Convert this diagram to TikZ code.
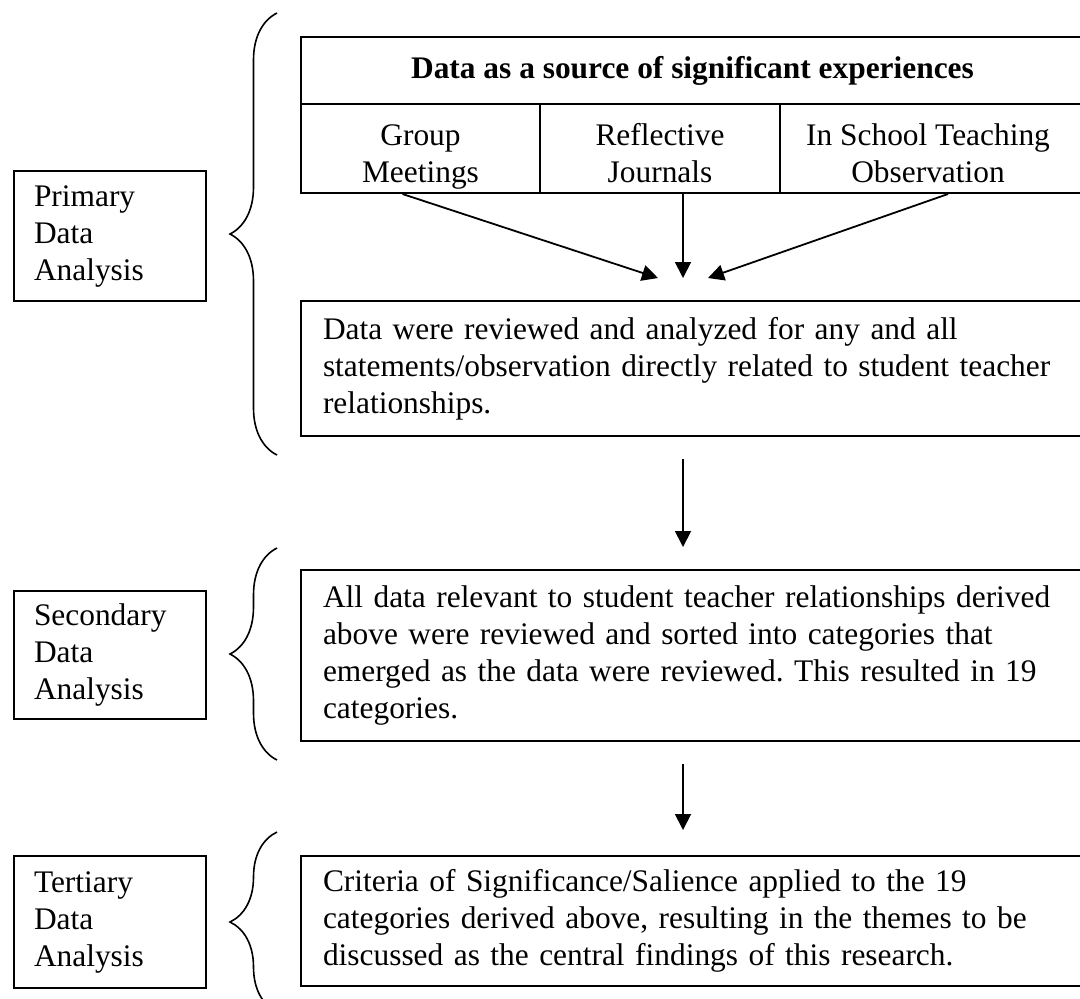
\documentclass[tikz,border=0pt]{standalone}
\usepackage{fontspec}
\setmainfont{Liberation Serif}
\usetikzlibrary{arrows.meta,calc,decorations.pathreplacing}
\frenchspacing

\tikzset{
  txt/.style={font=\fontsize{15.7pt}{18.5pt}\selectfont},
  side/.style={txt, draw, line width=1pt, anchor=north west, minimum width=96pt,
    text width=76pt, inner xsep=10pt, align=left},
  cell/.style={draw, line width=1pt, anchor=north west, minimum height=44.5pt},
  celltext/.style={txt, align=center, anchor=north, inner sep=0pt},
  stage/.style={txt, draw, line width=1pt, anchor=north west, minimum width=391.5pt,
    text width=369.5pt, inner xsep=11pt, align=left},
  arr/.style={-{Triangle[length=8pt,width=8pt]}, line width=0.9pt},
  bracket/.style={decorate, decoration={brace, amplitude=23.5pt}, line width=0.8pt}
}

\begin{document}
\begin{tikzpicture}[x=0.5pt, y=-0.5pt]
  \useasboundingbox (0,0) rectangle (1080,998);

  % labels on the left
  \node[side, minimum height=65pt] (primary) at (13,170) {Primary\\Data\\Analysis};
  \node[side, minimum height=64pt] (secondary) at (13,590) {Secondary\\Data\\Analysis};
  \node[side, minimum height=66pt] (tertiary) at (13,855) {Tertiary\\Data\\Analysis};

  % braces
  \draw[bracket] (277,455) -- (277,13);
  \draw[bracket] (277,760) -- (277,548);
  \draw[bracket] (277,1012) -- (277,832);

  % sources table
  \node[draw, line width=1pt, anchor=north west, minimum width=391.5pt,
    minimum height=33.5pt, font=\fontsize{15.7pt}{18.5pt}\selectfont\bfseries] (title) at (300,36)
    {Data as a source of significant experiences};
  \node[cell, minimum width=119.5pt] (meet) at (300,103) {};
  \node[cell, minimum width=120pt] (journ) at (539,103) {};
  \node[cell, minimum width=152pt] (observ) at (779,103) {};
  \node[celltext] (meetT) at ([yshift=-8pt]meet.north) {\strut Group\\Meetings};
  \node[celltext] (journT) at ([yshift=-8pt]journ.north) {\strut Reflective\\Journals};
  \node[celltext] (observT) at ([xshift=-2pt,yshift=-8pt]observ.north) {\strut In School Teaching\\Observation};

  % stages
  \node[stage, minimum height=67.5pt] (review) at (300,300)
    {Data were reviewed and analyzed for any and all\\
     statements/observation directly related to student teacher\\
     relationships.};
  \node[stage, minimum height=85.5pt] (sort) at (300,569)
    {All data relevant to student teacher relationships derived\\
     above were reviewed and sorted into categories that\\
     emerged as the data were reviewed. This resulted in 19\\
     categories.};
  \node[stage, minimum height=65pt] (crit) at (300,855)
    {Criteria of Significance/Salience applied to the 19\\
     categories derived above, resulting in the themes to be\\
     discussed as the central findings of this research.};

  % arrows
  \coordinate (join) at (683,278);
  \draw[arr] ([xshift=-9pt]meet.south) -- ([xshift=-12.5pt]join);
  \draw[arr] (journ.south -| join) -- (join);
  \draw[arr] ([xshift=8pt]observ.south) -- ([xshift=12.5pt]join);
  \draw[arr] ($(review.south -| join)+(0,22)$) -- ($(sort.north -| join)+(0,-22)$);
  \draw[arr] ($(sort.south -| join)+(0,22)$) -- ($(crit.north -| join)+(0,-25)$);
\end{tikzpicture}
\end{document}
